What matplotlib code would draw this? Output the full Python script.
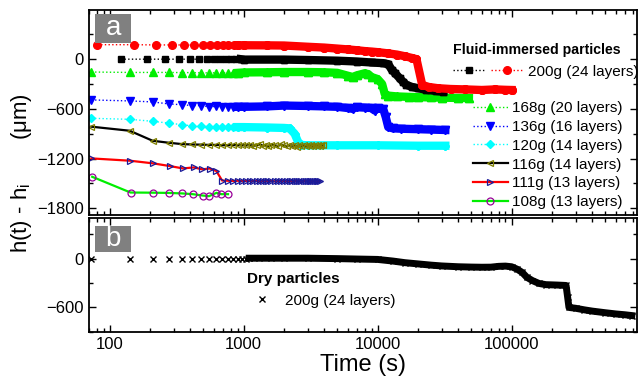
import matplotlib.pyplot as plt
from matplotlib.legend_handler import HandlerTuple
from matplotlib.patches import Rectangle
from matplotlib.ticker import MultipleLocator, LogLocator, NullFormatter

plt.rcParams['font.family'] = ['Liberation Sans', 'DejaVu Sans']
plt.rcParams['mathtext.default'] = 'regular'

# --- fluid-immersed particles (time in s, height change in um) ---
t_200_sq = [121, 189, 257, 327, 395, 461, 530, 600, 670, 740, 810, 880, 950,
            1000, 2000, 3000, 5000, 7000, 9000, 11000, 12000, 12700, 13500, 14600,
            15500, 16400, 18000, 20000, 23000, 27500, 31000]
h_200_sq = [0, 0, 0, 0, 0, 0, 0, 0, 0, 0, 0, 0, 0,
            -5, -5, -10, -18, -28, -40, -48, -60, -125, -170, -230,
            -275, -310, -335, -350, -370, -384, -392]

t_200_ci = [81, 151, 221, 290, 357, 423, 493, 560, 630, 700, 770, 840, 910,
            1000, 1500, 2000, 3000, 4000, 5000, 6000, 7000, 8000, 9000, 10000,
            12000, 14000, 16000, 18000, 19500, 21500, 24000, 28000, 35000, 45000,
            60000, 75000, 90000, 100000]
h_200_ci = [175, 175, 172, 172, 172, 170, 170, 170, 168, 168, 168, 168, 168,
            168, 167, 165, 150, 140, 128, 118, 108, 98, 92, 85,
            70, 55, 35, 15, 0, -310, -335, -350, -360, -365,
            -372, -365, -370, -372]

t_168 = [73, 141, 209, 276, 345, 413, 480, 550, 618, 689, 760, 830, 900,
         1000, 1500, 2000, 3000, 4000, 5000, 6000, 6500, 7000, 8000, 8500, 9000,
         10000, 10800, 11300, 12000, 14000, 17000, 20000, 25000, 30000, 40000, 48000]
h_168 = [-155, -160, -160, -160, -162, -162, -165, -165, -165, -165, -165, -165, -165,
         -160, -158, -155, -155, -158, -165, -200, -215, -195, -170, -180, -215,
         -240, -300, -420, -440, -450, -455, -458, -462, -465, -468, -470]

t_136 = [73, 141, 209, 276, 345, 413, 480, 550, 618, 689, 760, 830, 900,
         1000, 1500, 2000, 3000, 4000, 5000, 6000, 6500, 7000, 8000, 9000, 9500,
         10000, 11000, 11500, 12000, 13000, 15000, 20000, 25000, 32000]
h_136 = [-492, -504, -516, -540, -550, -560, -560, -575, -570, -575, -580, -575, -575,
         -575, -570, -560, -565, -570, -575, -590, -600, -580, -585, -590, -620,
         -595, -600, -700, -820, -835, -840, -845, -850, -855]

t_120 = [73, 141, 209, 276, 345, 413, 480, 550, 618, 689, 760, 830, 900,
         1000, 1500, 2000, 2200, 2400, 2550, 2700, 3000, 5000, 10000, 20000, 32000]
h_120 = [-714, -726, -750, -772, -790, -805, -810, -815, -815, -815, -820, -820, -820,
         -820, -825, -830, -835, -900, -1000, -1035, -1040, -1040, -1040, -1045, -1045]

t_116 = [73, 141, 209, 276, 345, 413, 480, 550, 618, 689,
         760, 830, 900, 970, 1040, 1110, 1180, 1250, 1320, 1390,
         1460, 1530, 1600, 1700, 1800, 1900, 2000, 2100, 2200, 2300,
         2400, 2500, 2600, 2700, 2800, 2900, 3000, 3100, 3200, 3300,
         3400, 3500, 3600, 3700, 3800, 3900]
h_116 = [-815, -864, -985, -1009, -1025, -1030, -1032, -1035, -1035, -1038,
         -1040, -1035, -1040, -1038, -1042, -1035, -1045, -1040, -1030, -1045,
         -1038, -1050, -1035, -1040, -1048, -1030, -1042, -1050, -1035, -1045,
         -1040, -1055, -1035, -1045, -1040, -1050, -1038, -1045, -1035, -1050,
         -1040, -1045, -1038, -1045, -1040, -1042]

t_111 = [73, 142, 211, 280, 352, 423, 492, 558, 625, 690,
         760, 830, 900, 970, 1040, 1110, 1180, 1250, 1320, 1390,
         1460, 1530, 1600, 1700, 1800, 1900, 2000, 2100, 2200, 2300,
         2400, 2500, 2600, 2700, 2800, 2900, 3000, 3100, 3200, 3300,
         3400, 3500, 3600, 3700]
h_111 = [-1198, -1226, -1258, -1290, -1319, -1307, -1330, -1320, -1350, -1465,
         -1468, -1470, -1468, -1472, -1470, -1468, -1472, -1470, -1475, -1470,
         -1468, -1472, -1470, -1475, -1470, -1472, -1468, -1475, -1470, -1472,
         -1470, -1475, -1470, -1472, -1468, -1475, -1470, -1472, -1470, -1475,
         -1470, -1472, -1470, -1470]

t_108 = [74, 143, 211, 277, 348, 418, 493, 551, 626, 682, 764]
h_108 = [-1420, -1610, -1612, -1615, -1621, -1630, -1646, -1654, -1614, -1630, -1630]

# --- dry particles ---
t_dry = [73, 141, 209, 277, 345, 413, 480, 550, 618, 689, 760, 830, 900, 970, 1040, 1100,
         1300, 1600, 2000, 3000, 5000, 7000, 10000, 13000, 16000, 20000, 25000, 30000,
         40000, 50000, 60000, 70000, 80000, 90000, 100000, 110000, 120000, 130000,
         143000, 160000, 180000, 220000, 255000, 262000, 268000, 300000, 350000, 400000,
         500000, 600000, 700000, 790000]
h_dry = [0, 0, 0, 0, 0, 0, 0, 0, 0, 0, 0, 0, 0, 0, 0, 5,
         5, 5, 5, 5, 0, -5, -10, -30, -50, -65, -80, -90,
         -100, -104, -106, -105, -95, -92, -100, -130, -170, -230,
         -270, -305, -320, -325, -330, -475, -600, -610, -630, -645,
         -665, -680, -690, -700]


def dense(ax, t, h, color, marker, ms, cut=900, lw=6):
    # sparse early points joined by a dotted line, dense later points as a band
    ln, = ax.plot(t, h, ls=':', lw=1, color=color, marker=marker, ms=ms, mec=color)
    tb = [x for x in t if x >= cut]
    hb = [y for x, y in zip(t, h) if x >= cut]
    ax.plot(tb, hb, color=color, lw=lw, marker=marker, ms=ms, mec=color)
    return ln


fig = plt.figure(figsize=(6.4, 3.81), dpi=100)
ax1 = fig.add_axes([0.139, 0.436, 0.856, 0.538])
ax2 = fig.add_axes([0.139, 0.129, 0.856, 0.299], sharex=ax1)

l120 = dense(ax1, t_120, h_120, '#00ffff', 'D', 4.5)
l136 = dense(ax1, t_136, h_136, '#0000ff', 'v', 6)
l168 = dense(ax1, t_168, h_168, '#00ee00', '^', 6)
lsq = dense(ax1, t_200_sq, h_200_sq, 'black', 's', 4.5)
lci = dense(ax1, t_200_ci, h_200_ci, '#ff0000', 'o', 5.5)

l116, = ax1.plot(t_116, h_116, color='black', lw=1.6, marker='<', ms=5,
                 mfc='none', mec='#808000', mew=0.9)
l111, = ax1.plot(t_111, h_111, color='#ff0000', lw=1.6, marker='>', ms=5,
                 mfc='none', mec='#1a1a99', mew=0.9)
l108, = ax1.plot(t_108, h_108, color='#00ee00', lw=1.6, marker='o', ms=5,
                 mfc='none', mec='#990099', mew=0.9)

ldry, = ax2.plot(t_dry[:16], h_dry[:16], ls='none', color='black', marker='x', ms=4, mew=1)
ax2.plot(t_dry[15:], h_dry[15:], color='black', lw=5, marker='x', ms=4, mew=1)

for ax in (ax1, ax2):
    ax.set_xscale('log')
    ax.set_xlim(70, 860000)
    ax.xaxis.set_major_locator(LogLocator(base=10, numticks=10))
    ax.xaxis.set_minor_locator(LogLocator(base=10, subs=range(2, 10), numticks=20))
    ax.xaxis.set_minor_formatter(NullFormatter())
    ax.yaxis.set_major_locator(MultipleLocator(600))
    ax.yaxis.set_minor_locator(MultipleLocator(300))
    ax.tick_params(which='both', direction='in', top=True, right=True, labelsize=12, width=1)
    ax.tick_params(which='major', length=5)
    ax.tick_params(which='minor', length=3)
    for s in ax.spines.values():
        s.set_linewidth(1.3)

ax1.set_ylim(-1880, 595)
ax2.set_ylim(-900, 500)
ax1.tick_params(labelbottom=False)
ax2.set_xticks([100, 1000, 10000, 100000])
ax2.set_xticklabels(['100', '1000', '10000', '100000'])
ax2.set_xlabel('Time (s)', fontsize=17, labelpad=2)

fig.text(0.033, 0.545, 'h(t) - h$_{i}$       (\u03bcm)', rotation=90, fontsize=16,
         ha='center', va='center')

# panel tags
for ax, tag, y0, y1 in ((ax1, 'a', 0.839, 0.98), (ax2, 'b', 0.70, 0.93)):
    ax.add_patch(Rectangle((0.011, y0), 0.066, y1 - y0, transform=ax.transAxes,
                           fc='#808080', ec='none', zorder=5))
    ax.text(0.044, (y0 + y1) / 2, tag, transform=ax.transAxes, color='white',
            fontsize=20, ha='center', va='center', zorder=6)

leg1 = ax1.legend([(lsq, lci)], ['200g (24 layers)'],
                  handler_map={tuple: HandlerTuple(ndivide=None, pad=0.4)},
                  title='Fluid-immersed particles', alignment='left',
                  title_fontproperties={'weight': 'bold', 'size': 10.2},
                  fontsize=11, frameon=False, handlelength=4.6, handletextpad=0.3,
                  borderpad=0, borderaxespad=0, numpoints=1,
                  loc='upper right', bbox_to_anchor=(638 / 640, 1 - 43 / 381),
                  bbox_transform=fig.transFigure)
ax1.add_artist(leg1)
ax1.legend([l168, l136, l120, l116, l111, l108],
           ['168g (20 layers)', '136g (16 layers)', '120g (14 layers)',
            '116g (14 layers)', '111g (13 layers)', '108g (13 layers)'],
           fontsize=11, frameon=False, handlelength=2.3, handletextpad=0.3,
           labelspacing=0.31, borderpad=0, borderaxespad=0, numpoints=1,
           loc='lower right', bbox_to_anchor=(623 / 640, 1 - 209 / 381),
           bbox_transform=fig.transFigure)

ax2.legend([ldry], ['200g (24 layers)'], title='Dry particles', alignment='left',
           title_fontproperties={'weight': 'bold', 'size': 11},
           fontsize=11, frameon=False, handlelength=2.0, handletextpad=0.5,
           borderpad=0, borderaxespad=0, numpoints=1,
           loc='upper left', bbox_to_anchor=(247 / 640, 1 - 272 / 381),
           bbox_transform=fig.transFigure)

fig.savefig('out.png', dpi=100)
